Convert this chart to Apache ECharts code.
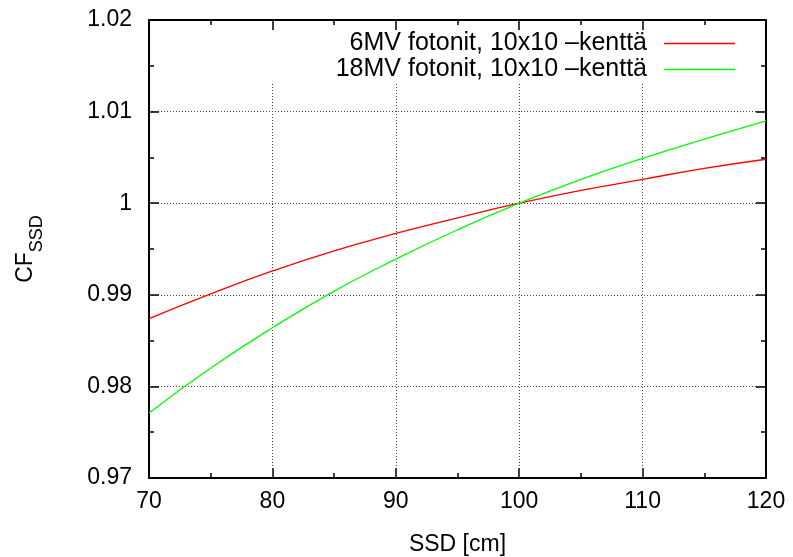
<!DOCTYPE html>
<html>
<head>
<meta charset="utf-8">
<title>CF SSD</title>
<script src="https://cdn.jsdelivr.net/npm/echarts@6/dist/echarts.min.js"></script>
<style>
  html, body { margin: 0; padding: 0; background: #fff; }
  #chart { width: 793px; height: 557px; }
</style>
</head>
<body>
<div id="chart"></div>
<script>
// Source-to-surface distance (cm)
const ssd = [70, 75, 80, 85, 90, 95, 100, 105, 110, 115, 120];
// Correction factor, 6 MV photons, 10x10 field
const cf6MV = [0.9874, 0.9901, 0.9926, 0.9948, 0.9967, 0.9984, 1.0000, 1.0014, 1.0026, 1.0038, 1.0048];
// Correction factor, 18 MV photons, 10x10 field
const cf18MV = [0.9771, 0.9820, 0.9864, 0.9904, 0.9939, 0.9971, 1.0000, 1.0026, 1.0049, 1.0070, 1.0090];

const seriesNames = ['6MV fotonit, 10x10 \u2013kenttä', '18MV fotonit, 10x10 \u2013kenttä'];
const xGridTicks = [80, 90, 100, 110];
const xRange = [70, 120];
const yRange = [0.97, 1.02];
const vGridTop = 1.0131; // vertical grid stops below the key

const FONT = "'Liberation Sans', Arial, Helvetica, sans-serif";
const gridDots = { color: '#444', width: 1, type: [1, 2] };

function makeX(position, withLabels) {
  return {
    type: 'value', position: position, min: xRange[0], max: xRange[1], interval: 10,
    axisLine: { show: true, onZero: false, lineStyle: { color: '#000', width: 2 } },
    axisTick: { show: true, inside: true, length: 10, lineStyle: { color: '#000', width: 1.5 } },
    minorTick: { show: true, splitNumber: 2, length: 5, lineStyle: { color: '#000', width: 1.5 } },
    splitLine: { show: false },
    axisLabel: { show: withLabels, color: '#000', fontSize: 23, margin: 12, fontFamily: FONT },
    name: withLabels ? 'SSD [cm]' : '',
    nameLocation: 'middle', nameGap: 55,
    nameTextStyle: { color: '#000', fontSize: 23, fontFamily: FONT }
  };
}
function makeY(position, withLabels) {
  return {
    type: 'value', position: position, min: yRange[0], max: yRange[1], interval: 0.01,
    axisLine: { show: true, onZero: false, lineStyle: { color: '#000', width: 2 } },
    axisTick: { show: true, inside: true, length: 10, lineStyle: { color: '#000', width: 1.5 } },
    minorTick: { show: true, splitNumber: 2, length: 5, lineStyle: { color: '#000', width: 1.5 } },
    splitLine: { show: withLabels, lineStyle: gridDots },
    axisLabel: {
      show: withLabels, color: '#000', fontSize: 23, margin: 17, fontFamily: FONT,
      formatter: v => String(+v.toFixed(2))
    },
    name: withLabels ? '{a|CF}{b|SSD}' : '',
    nameLocation: 'middle', nameRotate: 90, nameGap: 112,
    nameTextStyle: {
      fontFamily: FONT,
      rich: {
        a: { fontSize: 23, lineHeight: 23, color: '#000', fontFamily: FONT, verticalAlign: 'top' },
        b: { fontSize: 18, lineHeight: 18, color: '#000', fontFamily: FONT, verticalAlign: 'top', padding: [14, 0, 0, 0] }
      }
    }
  };
}
function makeLegend(name, top) {
  return {
    data: [name], orient: 'vertical', align: 'right', right: 58, top: top, padding: 0,
    icon: 'rect', itemWidth: 71, itemHeight: 1.3,
    selectedMode: false,
    textStyle: { color: '#000', fontSize: 25, fontFamily: FONT, padding: [0, 12, 0, 0] }
  };
}

const chart = echarts.init(document.getElementById('chart'), null, { renderer: 'canvas' });
chart.setOption({
  animation: false,
  backgroundColor: '#fff',
  textStyle: { fontFamily: FONT },
  grid: { left: 149, right: 27, top: 20, bottom: 79, containLabel: false, outerBoundsMode: 'none' },
  legend: [makeLegend(seriesNames[0], 31), makeLegend(seriesNames[1], 57)],
  xAxis: [makeX('bottom', true), makeX('top', false)],
  yAxis: [makeY('left', true), makeY('right', false)],
  series: [
    {
      name: seriesNames[0], type: 'line', xAxisIndex: 0, yAxisIndex: 0,
      data: ssd.map((x, i) => [x, cf6MV[i]]),
      smooth: 0.5, showSymbol: false, symbol: 'none', z: 3,
      itemStyle: { color: '#ff0000' },
      lineStyle: { color: '#ff0000', width: 1.3 },
      markLine: {
        silent: true, symbol: 'none', label: { show: false },
        lineStyle: gridDots, z: 1,
        data: xGridTicks.map(x => [{ coord: [x, yRange[0]] }, { coord: [x, vGridTop] }])
      }
    },
    {
      name: seriesNames[1], type: 'line', xAxisIndex: 0, yAxisIndex: 0,
      data: ssd.map((x, i) => [x, cf18MV[i]]),
      smooth: 0.5, showSymbol: false, symbol: 'none', z: 3,
      itemStyle: { color: '#00ff00' },
      lineStyle: { color: '#00ff00', width: 1.3 }
    }
  ]
});
</script>
</body>
</html>
